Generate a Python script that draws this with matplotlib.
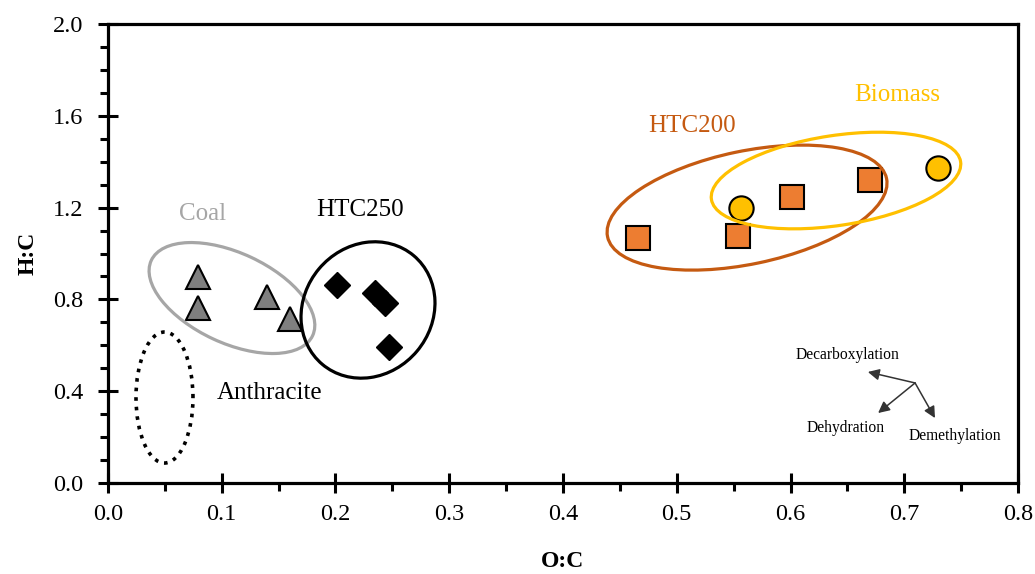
import matplotlib.pyplot as plt
from matplotlib.patches import Ellipse
from matplotlib.transforms import ScaledTranslation
from matplotlib.ticker import MultipleLocator

plt.rcParams['font.family'] = ['Liberation Serif', 'DejaVu Serif']

# O:C and H:C values
coal_oc = [0.079, 0.079, 0.140, 0.160]
coal_hc = [0.898, 0.763, 0.810, 0.715]

htc250_oc = [0.201, 0.235, 0.2435, 0.247]
htc250_hc = [0.863, 0.828, 0.784, 0.593]

htc200_oc = [0.466, 0.554, 0.601, 0.670]
htc200_hc = [1.068, 1.076, 1.246, 1.320]

biomass_oc = [0.5565, 0.7297]
biomass_hc = [1.198, 1.372]

x_ticks = [0.0, 0.1, 0.2, 0.3, 0.4, 0.5, 0.6, 0.7, 0.8]
y_ticks = [0.0, 0.4, 0.8, 1.2, 1.6, 2.0]

# group outlines: center (data), half axes (px), angle
groups = [
    ('Coal', 0.109, 0.806, 89, 45, -25, '#a6a6a6', '-'),
    ('HTC250', 0.2286, 0.754, 71, 64, 50, 'black', '-'),
    ('Anthracite', 0.0497, 0.3725, 65.5, 28.5, 90, 'black', ':'),
    ('HTC200', 0.5618, 1.200, 142.5, 56.5, 11.8, '#c55a11', '-'),
    ('Biomass', 0.640, 1.318, 126, 45, 8.6, '#ffc000', '-'),
]

labels = [
    ('Coal', 0.0831, 1.172, '#a6a6a6'),
    ('HTC250', 0.2215, 1.190, 'black'),
    ('Anthracite', 0.1424, 0.392, 'black'),
    ('HTC200', 0.5134, 1.556, '#c55a11'),
    ('Biomass', 0.6936, 1.691, '#ffc000'),
]

fig = plt.figure(figsize=(10.35, 5.74), dpi=100)
ax = fig.add_axes([0.1043, 0.1585, 0.8793, 0.7997])

ax.plot(coal_oc, coal_hc, '^', ms=17, mfc='#7f7f7f', mec='black', mew=1.5, zorder=3)
ax.plot(htc250_oc, htc250_hc, 'D', ms=13, mfc='black', mec='black', mew=1, zorder=3)
ax.plot(htc200_oc, htc200_hc, 's', ms=17.5, mfc='#ed7d31', mec='black', mew=1.5, zorder=3)
ax.plot(biomass_oc, biomass_hc, 'o', ms=17.5, mfc='#ffc000', mec='black', mew=1.5, zorder=3)

for name, cx, cy, a, b, ang, col, ls in groups:
    tr = fig.dpi_scale_trans + ScaledTranslation(cx, cy, ax.transData)
    e = Ellipse((0, 0), 2*a/100, 2*b/100, angle=ang, transform=tr,
                fill=False, edgecolor=col, lw=2.3 if ls == '-' else 2.6, linestyle=ls, zorder=4)
    ax.add_patch(e)

for txt, x, y, col in labels:
    ax.text(x, y, txt, color=col, fontsize=18, ha='center', va='center')

# reaction pathway arrows
origin = (0.7095, 0.436)
for tip in [(0.668, 0.484), (0.677, 0.305), (0.727, 0.283)]:
    ax.annotate('', xy=tip, xytext=origin,
                arrowprops=dict(arrowstyle='-|>', color='#333333', lw=1.1, mutation_scale=17,
                                shrinkA=0, shrinkB=0))
ax.text(0.6501, 0.558, 'Decarboxylation', fontsize=11.2, ha='center', va='center')
ax.text(0.6484, 0.240, 'Dehydration', fontsize=11.2, ha='center', va='center')
ax.text(0.7442, 0.205, 'Demethylation', fontsize=11.2, ha='center', va='center')

ax.set_xlim(0, 0.8)
ax.set_ylim(0, 2.0)
ax.set_xticks(x_ticks)
ax.set_yticks(y_ticks)
ax.set_xticklabels(['%.1f' % v for v in x_ticks])
ax.set_yticklabels(['%.1f' % v for v in y_ticks])
ax.xaxis.set_minor_locator(MultipleLocator(0.05))
ax.yaxis.set_minor_locator(MultipleLocator(0.1))
ax.tick_params(which='major', direction='inout', length=14, width=2.2, labelsize=17.5, pad=8)
ax.tick_params(axis='y', which='major', pad=11)
ax.tick_params(which='minor', direction='out', length=6, width=2.2)
for sp in ax.spines.values():
    sp.set_linewidth(2.3)

ax.set_xlabel('O:C', fontsize=17, fontweight='bold', labelpad=19)
ax.set_ylabel('H:C', fontsize=17, fontweight='bold', labelpad=10)

plt.savefig('out.png', dpi=100)
